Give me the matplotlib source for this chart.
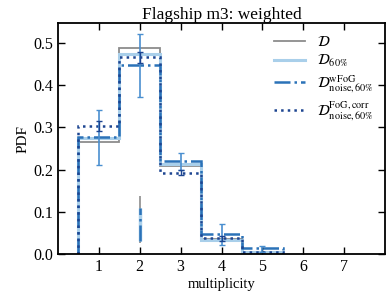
import matplotlib
matplotlib.use("Agg")
import matplotlib.pyplot as plt
import numpy as np

plt.rcParams['font.family'] = ['Liberation Serif', 'DejaVu Serif']
plt.rcParams['mathtext.fontset'] = 'stix'

edges = [0.5, 1.5, 2.5, 3.5, 4.5, 5.5]
d_all = [0.266, 0.488, 0.208, 0.035, 0.005]
d_60 = [0.275, 0.474, 0.214, 0.033, 0.006]
d_wfog = [0.276, 0.448, 0.220, 0.047, 0.0135]
d_fogcorr = [0.304, 0.466, 0.193, 0.037, 0.0055]

err_x = [1, 2, 3, 4, 5]
wfog_lo = [0.212, 0.372, 0.200, 0.022, 0.005]
wfog_hi = [0.340, 0.520, 0.240, 0.070, 0.020]
fog_x = [1, 2, 3, 4]
fog_lo = [0.292, 0.452, 0.188, 0.032]
fog_hi = [0.315, 0.478, 0.198, 0.042]

# stray vertical segments at multiplicity 2
seg_grey = (0.025, 0.138)
seg_blue = (0.030, 0.110)

c_grey = '#8c8c8c'
c_light = '#a9cfea'
c_mid = '#2b72b8'
c_err = '#4a8fd0'
c_dark = '#1d4591'

fig = plt.figure(figsize=(3.89, 2.92), dpi=100)
ax = fig.add_axes([0.149, 0.130, 0.841, 0.791])

ax.vlines(2, *seg_grey, color=c_grey, lw=1.2)
ax.vlines(2, *seg_blue, color=c_light, lw=2.5)
ax.vlines(2, *seg_blue, color=c_mid, lw=1.8, linestyles='-.')

ax.stairs(d_all, edges, baseline=0, color=c_grey, lw=1.3, label=r'$\mathcal{D}$')
ax.stairs(d_60, edges, baseline=0, color=c_light, lw=2.2, label=r'$\mathcal{D}_{60\%}$')
ax.stairs(d_wfog, edges, baseline=0, color=c_mid, lw=1.8, ls='-.',
          label=r'$\mathcal{D}^{\rm wFoG}_{\rm noise,60\%}$')
ax.stairs(d_fogcorr, edges, baseline=0, color=c_dark, lw=1.8, ls=':',
          label=r'$\mathcal{D}^{\rm FoG,corr}_{\rm noise,60\%}$')

wv = np.array(d_wfog)
ax.errorbar(err_x, wv, yerr=[wv - np.array(wfog_lo), np.array(wfog_hi) - wv],
            fmt='none', ecolor=c_err, elinewidth=1.2, capsize=2.5, capthick=1.0)
fv = np.array(d_fogcorr[:4])
ax.errorbar(fog_x, fv, yerr=[fv - np.array(fog_lo), np.array(fog_hi) - fv],
            fmt='none', ecolor=c_dark, elinewidth=1.0, capsize=2.0, capthick=1.0)

ax.set_xlim(0, 8)
ax.set_ylim(0, 0.547)
ax.set_xticks([1, 2, 3, 4, 5, 6, 7])
ax.set_yticks([0.0, 0.1, 0.2, 0.3, 0.4, 0.5])
ax.set_yticklabels(['0.0', '0.1', '0.2', '0.3', '0.4', '0.5'])
ax.tick_params(direction='in', top=True, right=True, length=5, width=1.0, labelsize=11.5)
for s in ax.spines.values():
    s.set_linewidth(1.3)
ax.set_xlabel('multiplicity', fontsize=10.5, labelpad=2)
ax.set_ylabel('PDF', fontsize=11, labelpad=3)
ax.set_title('Flagship m3: weighted', fontsize=12.5, pad=3)

leg = ax.legend(loc='upper right', frameon=False, fontsize=10.5, handlelength=2.1,
                labelspacing=0.3, borderaxespad=0.4, handletextpad=0.8)

fig.savefig('out.png', dpi=100)
